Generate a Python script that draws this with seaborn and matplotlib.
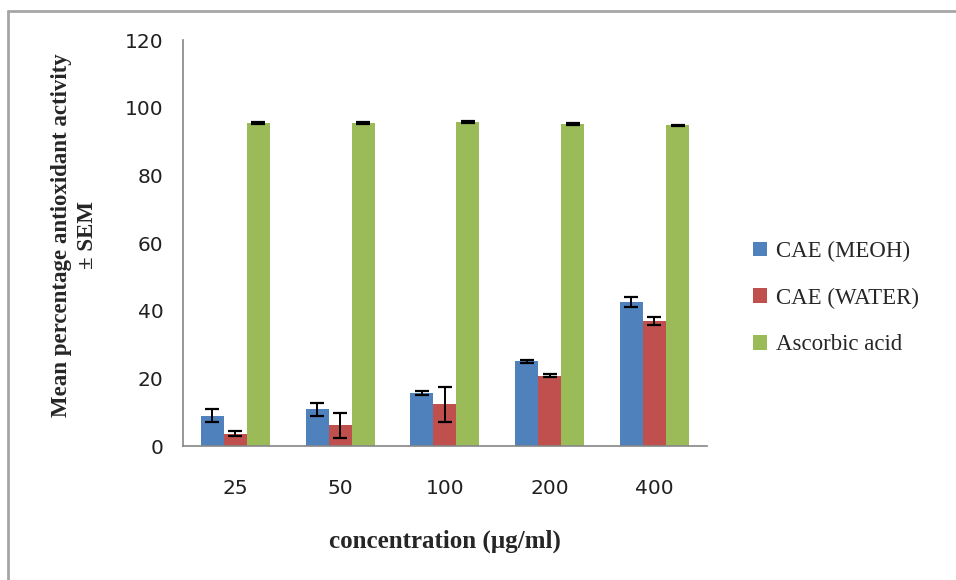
import pandas as pd
import numpy as np
import seaborn as sns
import matplotlib.pyplot as plt
from matplotlib.lines import Line2D

# values
concentrations = ['25', '50', '100', '200', '400']
series = ['CAE (MEOH)', 'CAE (WATER)', 'Ascorbic acid']
meoh = [9.0, 10.8, 15.6, 25.0, 42.6]
meoh_sem = [1.8, 1.8, 0.6, 0.5, 1.5]
water = [3.7, 6.1, 12.3, 20.8, 37.0]
water_sem = [0.7, 3.6, 5.1, 0.5, 1.2]
ascorbic = [95.5, 95.5, 95.8, 95.2, 94.8]
ascorbic_sem = [0.2, 0.2, 0.4, 0.4, 0.2]

colors = ['#4F81BD', '#C0504D', '#9BBB59']

df = pd.DataFrame({
    'conc': concentrations * 3,
    'series': [s for s in series for _ in concentrations],
    'value': meoh + water + ascorbic,
})
sems = [meoh_sem, water_sem, ascorbic_sem]

sns.set_style('white')
plt.rcParams['font.family'] = ['Liberation Serif', 'DejaVu Serif']

fig = plt.figure(figsize=(9.56, 5.8), dpi=100)
ax = fig.add_axes([0.1914, 0.231, 0.548, 0.70])

sns.barplot(data=df, x='conc', y='value', hue='series', order=concentrations,
            hue_order=series, palette=colors, width=0.66, errorbar=None,
            saturation=1, linewidth=0, ax=ax, legend=True)

# error bars at the bar centres
for cont, err in zip(ax.containers, sems):
    xs = [p.get_x() + p.get_width() / 2 for p in cont.patches]
    hs = [p.get_height() for p in cont.patches]
    ax.errorbar(xs, hs, yerr=err, fmt='none', ecolor='black',
                elinewidth=1.4, capsize=5, capthick=1.6)

ax.set_xlim(-0.5, 4.5)
ax.set_ylim(0, 120)
ax.set_yticks(range(0, 121, 20))
ax.set_xticks(np.arange(-0.5, 5, 1), minor=True)
ax.tick_params(axis='x', which='major', length=0, pad=24)
ax.tick_params(axis='x', which='minor', length=6, width=1.2, color='#868686', direction='out')
ax.tick_params(axis='y', length=5, width=1.2, color='#868686', direction='out', pad=9)
for lab in ax.get_xticklabels() + ax.get_yticklabels():
    lab.set_fontfamily(['DejaVu Sans'])
    lab.set_fontsize(14.5)
    lab.set_color('#202020')

for s in ['top', 'right']:
    ax.spines[s].set_visible(False)
for s in ['left', 'bottom']:
    ax.spines[s].set_color('#868686')
    ax.spines[s].set_linewidth(1.2)

ax.set_xlabel('concentration (µg/ml)', fontsize=18, fontweight='bold')
ax.set_ylabel('Mean percentage antioxidant activity\n± SEM', fontsize=16.5,
              fontweight='bold', linespacing=1.3)
ax.xaxis.set_label_coords(0.5, -0.205)
ax.yaxis.set_label_coords(-0.162, 0.52)

leg = ax.legend(loc='center left', bbox_to_anchor=(0.766, 0.486),
                bbox_transform=fig.transFigure, frameon=False, fontsize=16.5,
                handlelength=0.6, handleheight=0.6, labelspacing=1.12,
                handletextpad=0.4)

# outer chart border (top and left only, image is cropped)
fig.add_artist(Line2D([8 / 956, 8 / 956], [0, 1 - 11 / 580], color='#A6A6A6', lw=2))
fig.add_artist(Line2D([8 / 956, 1], [1 - 11 / 580, 1 - 11 / 580], color='#A6A6A6', lw=2))

fig.savefig('out.png', dpi=100)
